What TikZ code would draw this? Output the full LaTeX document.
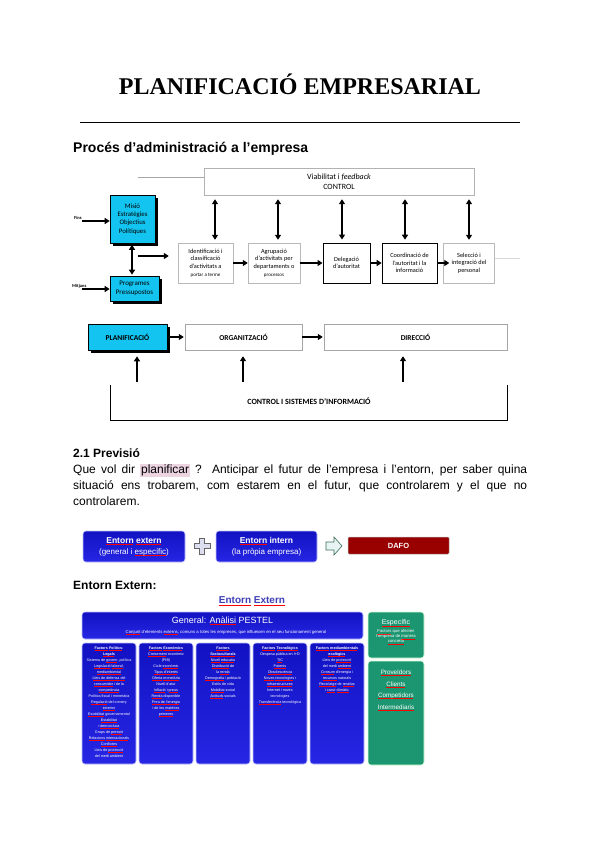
\documentclass[tikz,border=0pt]{standalone}
\usepackage{fontspec}
\setmainfont{Liberation Sans}
\newfontfamily\serif{Liberation Serif}
\newfontfamily\calfont{Carlito}
\usetikzlibrary{arrows.meta,shadows}
\newcommand\fsz[2]{\fontsize{#1}{#2}\selectfont}
\newcommand\rsq[1]{\leavevmode\setbox0\hbox{#1}\rlap{\textcolor{red}{\leaders\hbox{\rule[-1.1pt]{0.7pt}{0.4pt}\hskip0.3pt}\hskip\wd0}}\box0\relax}
\definecolor{cyanc}{RGB}{20,196,240}
\definecolor{btop}{RGB}{18,18,195}
\definecolor{bbot}{RGB}{38,38,228}
\definecolor{greenc}{RGB}{28,150,112}
\definecolor{dafoc}{RGB}{153,0,0}
\definecolor{hl}{RGB}{236,212,224}
\definecolor{titblue}{RGB}{62,62,182}
\definecolor{plusc}{RGB}{220,222,240}
\definecolor{arrc}{RGB}{232,244,244}
\definecolor{arrd}{RGB}{60,110,90}
\setlength\fboxsep{0.8pt}
\begin{document}
\begin{tikzpicture}[x=1pt,y=-1pt,
  arr/.style={line width=1.3pt,-{Triangle[length=5pt,width=6pt]}},
  darr/.style={line width=1.3pt,{Triangle[length=5pt,width=6pt]}-{Triangle[length=5pt,width=6pt]}},
  lbox/.style={draw=gray!55,fill=white,inner sep=0pt,align=center,font=\calfont\fsz{6.3}{7.6}},
  kbox/.style={lbox,draw=black},
  cbox/.style={fill=cyanc,draw=black,line width=0.6pt,inner sep=0pt,align=center,
     drop shadow={shadow xshift=2.5pt,shadow yshift=-2.5pt,fill=black,opacity=1}},
  wbox/.style={draw=gray!70,fill=white,inner sep=0pt,font=\calfont\bfseries\fsz{7.5}{9}},
  lab/.style={inner sep=0pt,font=\calfont\bfseries\fsz{4.5}{5}},
  bluebox/.style={rounded corners=3pt,top color=btop,bottom color=bbot,draw=blue!25!white,line width=0.6pt,inner sep=0pt},
  greenbox/.style={rounded corners=3pt,fill=greenc,draw=green!15!white,line width=0.6pt,inner sep=0pt},
  wt/.style={text=white,inner sep=0pt,align=center},
  coltxt/.style={wt,anchor=north,font=\fsz{3.7}{6}},
  heading/.style={anchor=base west,inner sep=0pt,font=\bfseries\fsz{12}{15}}
]
\useasboundingbox (0,0) rectangle (600,848);
\fill[white] (0,0) rectangle (600,848);

% ---------- title ----------
\node[anchor=base,inner sep=0pt,font=\serif\bfseries\fsz{24}{28}] (title) at (300,95) {PLANIFICACIÓ EMPRESARIAL};
\draw[line width=0.6pt] (80,122) -- (520,122);
\node[heading,font=\bfseries\fsz{14}{16}] (h1) at (73,153) {Procés d’administració a l’empresa};

% ---------- top diagram ----------
\node[lbox,draw=gray!60,minimum width=270pt,minimum height=27pt,font=\calfont\fsz{8}{10}] (viab) at (339,181.5) {Viabilitat i \textit{feedback}\\CONTROL};
\coordinate (g1) at (138,177);
\draw[gray!70] (g1) -- (g1 -| viab.west);

\node[cbox,minimum width=45pt,minimum height=48pt,font=\calfont\fsz{6.8}{8.3}] (misio) at (132.5,219) {Misió\\Estratègies\\Objectius\\Polítiques};
\node[cbox,minimum width=49pt,minimum height=25pt,font=\calfont\fsz{7}{8.5}] (prog) at (134.5,288.5) {Programes\\Pressupostos};

\node[lab,anchor=west] (fins) at (74,218) {Fins};
\node[lab,anchor=west] (mitj) at (72,286) {Mitjans};
\coordinate (fa) at (82,221);
\coordinate (ma) at (82,289);
\draw[arr] (fa) -- (fa -| misio.west);
\draw[arr] (ma) -- (ma -| prog.west);
\coordinate (dv) at (132,0);
\draw[darr,shorten <=1.5pt,shorten >=1pt] (dv |- misio.south) -- (dv |- prog.north);

\node[lbox,minimum width=55pt,minimum height=40pt] (ident) at (205.5,263) {Identificació i\\classificació\\d’activitats a\\{\fsz{5}{7}portar a terme}};
\node[lbox,minimum width=52pt,minimum height=40pt] (agrup) at (274,263) {Agrupació\\d’activitats per\\departaments o\\{\fsz{5}{7}processos}};
\node[kbox,line width=0.9pt,minimum width=47pt,minimum height=40pt] (deleg) at (346.5,263) {Delegació\\d’autoritat};
\node[kbox,line width=0.6pt,minimum width=55pt,minimum height=40pt] (coord) at (409.5,263) {Coordinació de\\l’autoritat i la\\informació};
\node[lbox,minimum width=51pt,minimum height=40pt] (selec) at (469,263) {Selecció i\\integració del\\personal};

\coordinate (ra) at (138,256);
\draw[arr,shorten >=9pt] (ra) -- (ra -| ident.west);
\draw[arr] (ident.east) -- (agrup.west);
\draw[arr] (agrup.east) -- (deleg.west);
\draw[arr] (deleg.east) -- (coord.west);
\draw[arr] (coord.east) -- ++(12,0);
\coordinate (gl) at (494,258);
\draw[gray!30] (selec.east |- gl) -- (520,258);

\foreach \x/\b in {215/ident,278/agrup,342/deleg,405/coord,469/selec}{
  \coordinate (v) at (\x,0);
  \draw[darr,shorten <=4pt,shorten >=3pt] (v |- viab.south) -- (v |- \b.north);
}

% ---------- bottom diagram ----------
\node[cbox,minimum width=79pt,minimum height=26pt,font=\calfont\bfseries\fsz{7.5}{9}] (plan) at (127.5,337) {PLANIFICACIÓ};
\node[wbox,minimum width=117pt,minimum height=26pt] (org) at (243.5,337) {ORGANITZACIÓ};
\node[wbox,minimum width=183pt,minimum height=26pt] (dir) at (415.5,337) {DIRECCIÓ};
\draw[arr,shorten <=1pt,shorten >=1pt] (plan.east) -- (org.west);
\draw[arr,shorten >=1pt] (org.east) -- (dir.west);

\coordinate (bl) at (110,385);
\coordinate (br) at (507,385);
\draw[line width=0.6pt] (bl) -- ++(0,35) -| (br);
\node[inner sep=0pt,font=\calfont\bfseries\fsz{8}{9}] (ctrl) at (309,401) {CONTROL I SISTEMES D’INFORMACIÓ};
\foreach \x/\b in {137/plan,243/org,403/dir}{
  \coordinate (u) at (\x,382);
  \draw[arr,shorten >=6pt] (u) -- (u |- \b.south);
}

% ---------- 2.1 Previsio ----------
\node[heading] (h2) at (73,457) {2.1 Previsió};
\node[anchor=base west,inner sep=0pt,font=\fsz{12}{16}] (p1) at (73,473.5) {\makebox[454pt][s]{Que vol dir \colorbox{hl}{planificar} ? Anticipar el futur de l'empresa i l'entorn, per saber quina}};
\node[anchor=base west,inner sep=0pt,font=\fsz{12}{16}] (p2) at (73,489.5) {\makebox[454pt][s]{situació ens trobarem, com estarem en el futur, que controlarem y el que no}};
\node[anchor=base west,inner sep=0pt,font=\fsz{12}{16}] (p3) at (73,505.5) {controlarem.};

% ---------- buttons ----------
\node[bluebox,minimum width=102pt,minimum height=31pt] (ext) at (134,546.5) {};
\node[wt,font=\bfseries\fsz{8.5}{10}] (extT) at (134,541) {\rsq{Entorn} \rsq{extern}};
\node[wt,font=\fsz{8}{10}] (extS) at (134,552.5) {(general i \rsq{específic})};
\node[bluebox,minimum width=101pt,minimum height=31pt] (int) at (266.5,546.5) {};
\node[wt,font=\bfseries\fsz{8.5}{10}] (intT) at (266.5,541) {\rsq{Entorn} intern};
\node[wt,font=\fsz{8}{10}] (intS) at (266.5,552.5) {(la pròpia empresa)};
\begin{scope}[shift={(202,546)}]
  \filldraw[fill=plusc,draw=gray!80!black,line width=0.6pt]
   (-2.5,-8) -- (2.5,-8) -- (2.5,-2.5) -- (8,-2.5) -- (8,2.5) -- (2.5,2.5) -- (2.5,8)
   -- (-2.5,8) -- (-2.5,2.5) -- (-8,2.5) -- (-8,-2.5) -- (-2.5,-2.5) -- cycle;
\end{scope}
\begin{scope}[shift={(334,546)}]
  \filldraw[fill=arrc,draw=arrd,line width=0.6pt]
   (-8,-4) -- (0,-4) -- (0,-9) -- (8,0) -- (0,9) -- (0,4) -- (-8,4) -- cycle;
\end{scope}
\node[fill=dafoc,draw=gray!60,line width=0.5pt,minimum width=101pt,minimum height=17pt,inner sep=0pt,
  rounded corners=1pt,text=white,font=\bfseries\fsz{7.5}{9}] (dafo) at (398.5,545.5) {DAFO};

% ---------- Entorn extern ----------
\node[heading] (h3) at (73,589) {Entorn Extern:};
\node[inner sep=0pt,text=titblue,font=\bfseries\fsz{10}{12}] (et) at (252,601) {\rsq{Entorn} \rsq{Extern}};

\node[bluebox,minimum width=281pt,minimum height=27pt] (gen) at (222.5,625.5) {};
\node[wt,font=\fsz{9}{11}] (genT) at (222.5,621) {General: \rsq{Anàlisi} PESTEL};
\node[wt,font=\fsz{4.3}{5}] (genS) at (226,632) {\rsq{Conjunt} d’elements \rsq{externs}, comuns a totes les empreses, que influeixen en el seu funcionament general};

\node[greenbox,minimum width=56pt,minimum height=46pt] (esp) at (396,635) {};
\node[wt,font=\fsz{7}{8}] (espT) at (396,623) {\rsq{Específic}};
\node[wt,font=\fsz{4.2}{5}] (espS) at (396,637) {\rsq{Factors} que afecten\\l’empresa de \rsq{manera}\\\rsq{concreta}};
\node[greenbox,minimum width=56pt,minimum height=104pt] (prov) at (396,713) {};
\node[wt,anchor=north,font=\fsz{6.3}{11.5}] (provT) at (396,670) {\rsq{Proveïdors}\\\rsq{Clients}\\\rsq{Competidors}\\\rsq{Intermediaris}};

\foreach \n/\x in {c1/109,c2/166,c3/223,c4/280,c5/337}{
  \node[bluebox,minimum width=54pt,minimum height=121pt] (\n) at (\x,703.5) {};
}
\node[coltxt] (t1) at (c1.north) [yshift=-4pt] {\textbf{\rsq{Factors} \rsq{Polítics}-}\\\textbf{\rsq{Legals}}\\Sistema de \rsq{govern}, política\\\rsq{Legislació} \rsq{laboral},\\\rsq{mediambiental}\\\rsq{Lleis de defensa del}\\\rsq{consumidor} i de la\\\rsq{competència}\\Política fiscal i monetària\\\rsq{Regulació} del comerç\\\rsq{exterior}\\\rsq{Estabilitat} governamental\\\rsq{Estabilitat}\\i \rsq{democràcia}\\Grups de \rsq{pressió}\\\rsq{Relacions} \rsq{internacionals}\\\rsq{Conflictes}\\Lleis de \rsq{protecció}\\del medi ambient};
\node[coltxt] (t2) at (c2.north) [yshift=-4pt] {\textbf{\rsq{Factors} \rsq{Econòmics}}\\\rsq{Creixement} econòmic\\(PIB)\\Cicle \rsq{econòmic}\\\rsq{Tipus d’interès}\\\rsq{Oferta} \rsq{monetària}\\Nivell d’atur\\\rsq{Inflació} i \rsq{preus}\\\rsq{Renda} disponible\\\rsq{Preu de l’energia}\\i de les \rsq{matèries}\\\rsq{primeres}};
\node[coltxt] (t3) at (c3.north) [yshift=-4pt] {\textbf{\rsq{Factors}}\\\textbf{\rsq{Socioculturals}}\\\rsq{Nivell} \rsq{educatiu}\\\rsq{Distribució} de\\la \rsq{renda}\\\rsq{Demografia} i població\\Estils de vida\\\rsq{Mobilitat} social\\\rsq{Actituds} socials};
\node[coltxt] (t4) at (c4.north) [yshift=-4pt] {\textbf{\rsq{Factors} \rsq{Tecnològics}}\\Despesa pública en I+D\\\rsq{TIC}\\\rsq{Patents}\\\rsq{Obsolescència}\\\rsq{Noves} \rsq{tecnologies} i\\\rsq{infraestructures}\\Internet i noves\\tecnologies\\\rsq{Transferència} tecnològica};
\node[coltxt] (t5) at (c5.north) [yshift=-4pt] {\textbf{\rsq{Factors} \rsq{mediambientals}}\\\textbf{\rsq{ecològics}}\\Lleis de \rsq{protecció}\\del medi \rsq{ambient}\\\rsq{Consum} d’energia i\\\rsq{recursos} naturals\\\rsq{Reciclatge} de \rsq{residus}\\i \rsq{canvi} \rsq{climàtic}};
\end{tikzpicture}
\end{document}
